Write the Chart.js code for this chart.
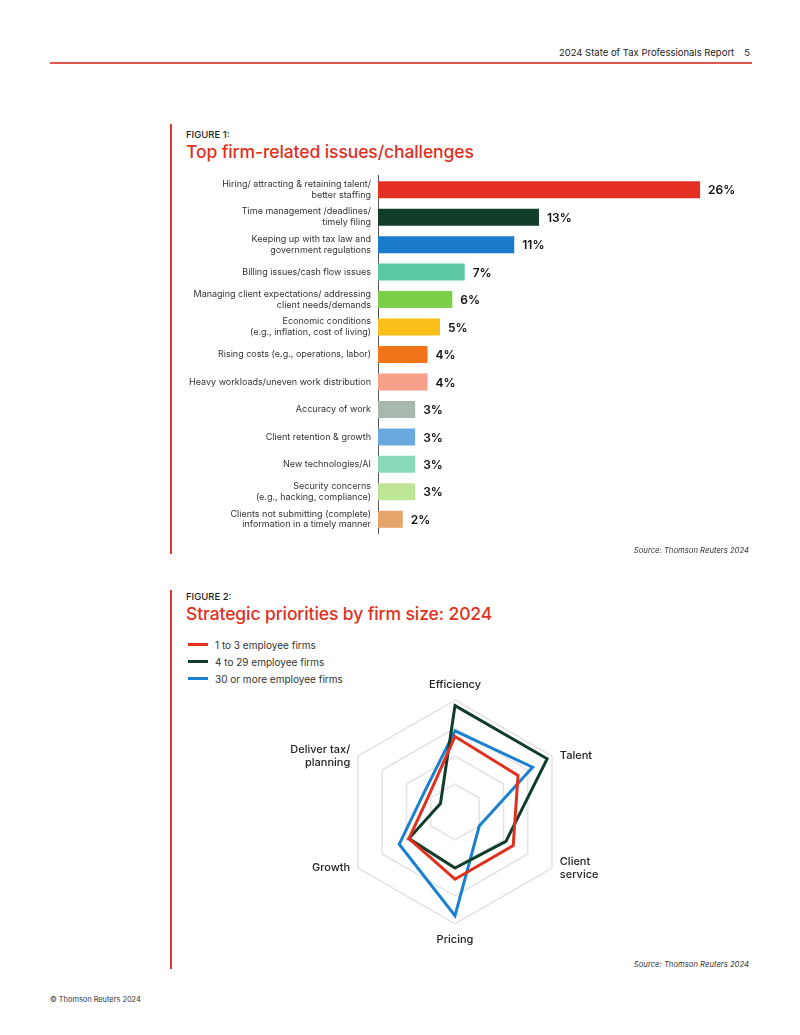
<!DOCTYPE html>
<html>
<head>
<meta charset="utf-8">
<script src="https://cdn.jsdelivr.net/npm/chart.js@4.4.1/dist/chart.umd.min.js"></script>
<style>
  body { margin: 0; background: #fff; font-family: Inter, "Noto Sans", sans-serif; color: #222; }
  #page { position: relative; width: 800px; height: 1035px; overflow: hidden; }
  .abs { position: absolute; }
  .header { right: 50px; top: 47px; font-size: 9.5px; color: #222; white-space: nowrap; }
  .header span { margin-left: 10px; }
  .topline { left: 50px; top: 62px; width: 702px; height: 2px; background: #e2574c; }
  .vline { left: 170px; width: 1.5px; background: #e2392c; }
  .fig { left: 186px; font-size: 9.5px; font-weight: 500; color: #222; }
  .title { left: 186px; font-size: 17.5px; font-weight: 500; color: #e0301e; white-space: nowrap; letter-spacing: -0.1px; }
  .source { right: 51px; font-size: 7.7px; font-style: italic; color: #333; }
  .footer { left: 50px; top: 995px; font-size: 7.4px; color: #333; }
  .legend { left: 188px; top: 636px; font-size: 10px; color: #333; }
  .legend div { height: 17px; display: flex; align-items: center; }
  .legend i { display: inline-block; width: 20px; height: 3px; margin-right: 7px; }
</style>
</head>
<body>
<div id="page">
  <div class="abs header">2024 State of Tax Professionals Report<span>5</span></div>
  <div class="abs topline"></div>

  <div class="abs vline" style="top:124px;height:430px"></div>
  <div class="abs fig" style="top:129px">FIGURE 1:</div>
  <div class="abs title" style="top:141px">Top firm-related issues/challenges</div>
  <canvas id="issuesChart" class="abs" style="left:170px;top:158px" width="592" height="393"></canvas>
  <div class="abs source" style="top:546px">Source: Thomson Reuters 2024</div>

  <div class="abs vline" style="top:590px;height:379px"></div>
  <div class="abs fig" style="top:591px">FIGURE 2:</div>
  <div class="abs title" style="top:603px">Strategic priorities by firm size: 2024</div>
  <div class="abs legend" id="legend"></div>
  <canvas id="prioritiesChart" class="abs" style="left:255px;top:678px" width="400" height="268"></canvas>
  <div class="abs source" style="top:960px">Source: Thomson Reuters 2024</div>

  <div class="abs footer">© Thomson Reuters 2024</div>
</div>

<script>
// Figure 1 data
const issueLabels = [
  ['Hiring/ attracting & retaining talent/', 'better staffing'],
  ['Time management /deadlines/', 'timely filing'],
  ['Keeping up with tax law and', 'government regulations'],
  'Billing issues/cash flow issues',
  ['Managing client expectations/ addressing', 'client needs/demands'],
  ['Economic conditions', '(e.g., inflation, cost of living)'],
  'Rising costs (e.g., operations, labor)',
  'Heavy workloads/uneven work distribution',
  'Accuracy of work',
  'Client retention & growth',
  'New technologies/AI',
  ['Security concerns', '(e.g., hacking, compliance)'],
  ['Clients not submitting (complete)', 'information in a timely manner']
];
const issueValues = [26, 13, 11, 7, 6, 5, 4, 4, 3, 3, 3, 3, 2];
const issueColors = ['#e33022', '#123d2b', '#1a7acb', '#5cc8a6', '#7ccf48', '#fbbf1c', '#f27418',
  '#f7a08a', '#a8b8ae', '#6aa9e0', '#88d9b8', '#bde596', '#e6a46b'];

// Figure 2 data
const priorityLabels = ['Efficiency', 'Talent', ['Client', 'service'], 'Pricing', 'Growth', ['Deliver tax/', 'planning']];
const firmSizes = ['1 to 3 employee firms', '4 to 29 employee firms', '30 or more employee firms'];
const smallFirms = [27, 26, 24, 24, 19, 11];
const midFirms = [38, 38, 21, 20, 19, 6];
const largeFirms = [29, 32, 10, 37, 23, 13];
const firmColors = ['#e0301e', '#0f3d2a', '#1b80d0'];

const valueLabels = {
  id: 'valueLabels',
  afterDatasetsDraw(chart) {
    const ctx = chart.ctx;
    const meta = chart.getDatasetMeta(0);
    ctx.save();
    ctx.font = '600 12px Inter';
    ctx.fillStyle = '#111';
    ctx.textBaseline = 'middle';
    meta.data.forEach((bar, i) => {
      ctx.fillText(issueValues[i] + '%', bar.x + 8, bar.y + 1);
    });
    ctx.restore();
  }
};

new Chart(document.getElementById('issuesChart'), {
  type: 'bar',
  data: {
    labels: issueLabels,
    datasets: [{
      data: issueValues,
      backgroundColor: issueColors,
      barPercentage: 0.62,
      categoryPercentage: 1
    }]
  },
  options: {
    responsive: false,
    animation: false,
    indexAxis: 'y',
    plugins: { legend: { display: false }, tooltip: { enabled: false } },
    scales: {
      x: { display: false, min: 0, max: 31 },
      y: {
        afterFit: scale => { scale.width = 208; },
        grid: { display: false, drawTicks: false },
        border: { display: true, color: '#555', width: 1 },
        ticks: { color: '#333', padding: 7, font: { family: 'Inter', size: 9, lineHeight: 1.22 } }
      }
    }
  },
  plugins: [valueLabels]
});

// legend for figure 2
const legendEl = document.getElementById('legend');
firmSizes.forEach((name, i) => {
  const row = document.createElement('div');
  row.innerHTML = '<i style="background:' + firmColors[i] + '"></i>' + name;
  legendEl.appendChild(row);
});

// axis names drawn next to the hexagon corners
const axisNames = {
  id: 'axisNames',
  afterDraw(chart) {
    const scale = chart.scales.r;
    const ctx = chart.ctx;
    ctx.save();
    ctx.font = '500 11px Inter';
    ctx.fillStyle = '#222';
    priorityLabels.forEach((label, i) => {
      const lines = [].concat(label);
      const p = scale.getPointPosition(i, scale.drawingArea + 9);
      const corner = scale.getPointPosition(i, scale.drawingArea);
      const angle = Math.round(scale.getIndexAngle(i) * 180 / Math.PI);
      const lh = 13.5;
      let y;
      if (angle === 0) { ctx.textAlign = 'center'; y = p.y - lh * lines.length + lh / 2; }
      else if (angle === 180) { ctx.textAlign = 'center'; y = p.y + lh / 2; }
      else {
        ctx.textAlign = angle < 180 ? 'left' : 'right';
        y = corner.y - (lines.length - 1) * lh / 2;
      }
      ctx.textBaseline = 'middle';
      lines.forEach((line, k) => ctx.fillText(line, p.x, y + k * lh));
    });
    ctx.restore();
  }
};

new Chart(document.getElementById('prioritiesChart'), {
  type: 'radar',
  data: {
    labels: priorityLabels,
    datasets: [smallFirms, midFirms, largeFirms].map((vals, i) => ({
      label: firmSizes[i],
      data: vals,
      borderColor: firmColors[i],
      backgroundColor: 'transparent',
      borderWidth: 3,
      pointRadius: 0,
      fill: false,
      tension: 0
    }))
  },
  options: {
    responsive: false,
    animation: false,
    layout: { padding: { top: 22, bottom: 22 } },
    plugins: { legend: { display: false }, tooltip: { enabled: false } },
    scales: {
      r: {
        min: 0,
        max: 40,
        ticks: { display: false, stepSize: 10 },
        angleLines: { display: false },
        grid: { color: '#e4e4e4', lineWidth: 1.5 },
        pointLabels: { display: false }
      }
    }
  },
  plugins: [axisNames]
});
</script>
</body>
</html>
